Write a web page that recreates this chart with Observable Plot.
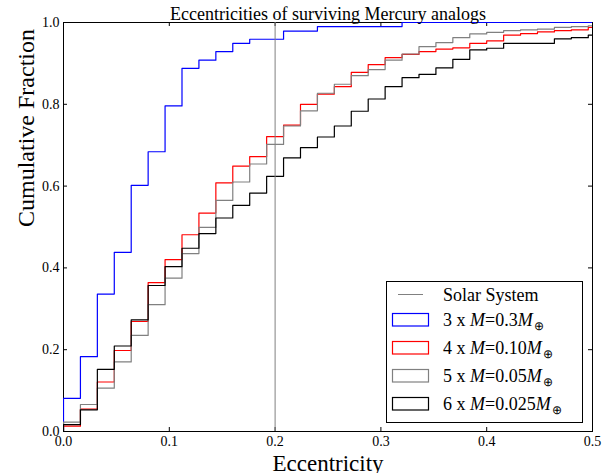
<!DOCTYPE html>
<html>
<head>
<meta charset="utf-8">
<script src="https://cdn.jsdelivr.net/npm/d3@7"></script>
<script src="https://cdn.jsdelivr.net/npm/@observablehq/plot@0.6"></script>
<style>
  body { margin: 0; background: #fff; }
  #chart { position: relative; width: 612px; height: 473px; overflow: hidden; }
</style>
</head>
<body>
<div id="chart"></div>
<script>
// Cumulative eccentricity distributions, one value per histogram bin
const binWidth = 0.016;
const solarSystemE = 0.2;

const seriesNames = ["3 x 0.3", "4 x 0.10", "5 x 0.05", "6 x 0.025"];
const seriesColors = ["#0000ff", "#ff0000", "#808080", "#000000"];
const planetCounts = ["3", "4", "5", "6"];
const planetMasses = ["0.3", "0.10", "0.05", "0.025"];

const frac3x030 = [0.081, 0.183, 0.336, 0.438, 0.602, 0.684, 0.796, 0.888, 0.908, 0.929,
  0.949, 0.959, 0.959, 0.979, 0.979, 0.990, 0.990, 0.990, 0.990, 0.990,
  1.0, 1.0, 1.0, 1.0, 1.0, 1.0, 1.0, 1.0, 1.0, 1.0, 1.0, 1.0];
const frac4x010 = [0.013, 0.055, 0.121, 0.198, 0.269, 0.364, 0.420, 0.481, 0.534, 0.608,
  0.649, 0.672, 0.721, 0.749, 0.800, 0.825, 0.843, 0.878, 0.897, 0.914,
  0.922, 0.929, 0.935, 0.938, 0.949, 0.955, 0.969, 0.973, 0.977, 0.980, 0.982, 0.988];
const frac5x005 = [0.023, 0.066, 0.106, 0.170, 0.235, 0.310, 0.375, 0.435, 0.499, 0.565,
  0.610, 0.654, 0.702, 0.747, 0.784, 0.827, 0.849, 0.870, 0.885, 0.908,
  0.923, 0.941, 0.951, 0.963, 0.972, 0.976, 0.980, 0.982, 0.984, 0.988, 0.990, 0.992];
const frac6x0025 = [0.017, 0.053, 0.152, 0.209, 0.273, 0.357, 0.403, 0.448, 0.484, 0.522,
  0.553, 0.583, 0.624, 0.669, 0.694, 0.720, 0.747, 0.783, 0.813, 0.843,
  0.865, 0.873, 0.889, 0.910, 0.933, 0.937, 0.949, 0.949, 0.949, 0.960, 0.963, 0.969];

const xTicks = [0.0, 0.1, 0.2, 0.3, 0.4, 0.5];
const yTicks = [0.0, 0.2, 0.4, 0.6, 0.8, 1.0];

// Step outline of each cumulative histogram: rise at 0, flat across each bin
const allFractions = [frac3x030, frac4x010, frac5x005, frac6x0025];
const rows = [];
allFractions.forEach((fr, i) => {
  const s = seriesNames[i];
  rows.push({s, x: 0, y: 0});
  fr.forEach((v, k) => rows.push({s, x: k * binWidth, y: v}));
  rows.push({s, x: fr.length * binWidth, y: fr[fr.length - 1]});
  rows.push({s, x: fr.length * binWidth, y: 0});
});

const W = 612, H = 473;
const mL = 63, mR = 20, mT = 22, mB = 42;
const innerW = W - mL - mR, innerH = H - mT - mB;
const tickLen = 4;
const serif = "'Liberation Serif', 'Times New Roman', Times, serif";

const chart = Plot.plot({
  width: W,
  height: H,
  marginLeft: mL,
  marginRight: mR,
  marginTop: mT,
  marginBottom: mB,
  style: {fontFamily: serif, fontSize: "14px", color: "black", background: "white", overflow: "visible"},
  x: {domain: [0, 0.5]},
  y: {domain: [0, 1]},
  color: {domain: seriesNames, range: seriesColors},
  marks: [
    Plot.frame({stroke: "black", strokeWidth: 1}),
    Plot.axisX({ticks: xTicks, tickSize: 0, tickPadding: 5, tickFormat: d3.format(".1f"), label: null, fontFamily: serif}),
    Plot.axisY({ticks: yTicks, tickSize: 0, tickPadding: 4, tickFormat: d3.format(".1f"), label: null, fontFamily: serif}),
    // inward ticks on all four sides
    Plot.tickX(xTicks, {x: d => d, insetTop: innerH - tickLen, stroke: "black"}),
    Plot.tickX(xTicks, {x: d => d, insetBottom: innerH - tickLen, stroke: "black"}),
    Plot.tickY(yTicks, {y: d => d, insetRight: innerW - tickLen, stroke: "black"}),
    Plot.tickY(yTicks, {y: d => d, insetLeft: innerW - tickLen, stroke: "black"}),
    Plot.line(rows, {x: "x", y: "y", z: "s", stroke: "s", curve: "step-after", strokeWidth: 1.2, clip: true}),
    Plot.ruleX([solarSystemE], {stroke: "#808080", strokeWidth: 1}),
    Plot.text(["Eccentricities of surviving Mercury analogs"], {frameAnchor: "top", dy: -3, lineAnchor: "bottom", fontSize: 18}),
    Plot.text(["Eccentricity"], {frameAnchor: "bottom", dy: 39, lineAnchor: "bottom", fontSize: 23}),
    Plot.text(["Cumulative Fraction"], {frameAnchor: "left", dx: -30, rotate: -90, lineAnchor: "bottom", fontSize: 24})
  ]
});

document.getElementById("chart").appendChild(chart);

// Legend box in the lower right corner of the axes
const svg = d3.select(chart);
const lg = svg.append("g").attr("font-family", serif).attr("font-size", 18).attr("text-anchor", "start");
lg.append("rect").attr("x", 386.5).attr("y", 281.5).attr("width", 196).attr("height", 141)
  .attr("fill", "white").attr("stroke", "black").attr("stroke-width", 1);
lg.append("line").attr("x1", 398).attr("x2", 423).attr("y1", 294.5).attr("y2", 294.5)
  .attr("stroke", "#808080").attr("stroke-width", 1);
lg.append("text").attr("x", 443).attr("y", 300.5).attr("text-anchor", "start").text("Solar System");

const rowTop = [313.5, 341.5, 369.5, 397.5];
seriesNames.forEach((s, i) => {
  lg.append("rect").attr("x", 392.5).attr("y", rowTop[i]).attr("width", 36).attr("height", 12.5)
    .attr("fill", "none").attr("stroke", seriesColors[i]).attr("stroke-width", 1.2);
  const t = lg.append("text").attr("x", 443).attr("y", rowTop[i] + 12.5).attr("text-anchor", "start");
  t.append("tspan").text(`${planetCounts[i]} x `);
  t.append("tspan").attr("font-style", "italic").text("M");
  t.append("tspan").text(`=${planetMasses[i]}`);
  t.append("tspan").attr("font-style", "italic").text("M");
  t.append("tspan").attr("font-size", 12).attr("dy", 4).attr("dx", 1).text("\u2295");
});
</script>
</body>
</html>
